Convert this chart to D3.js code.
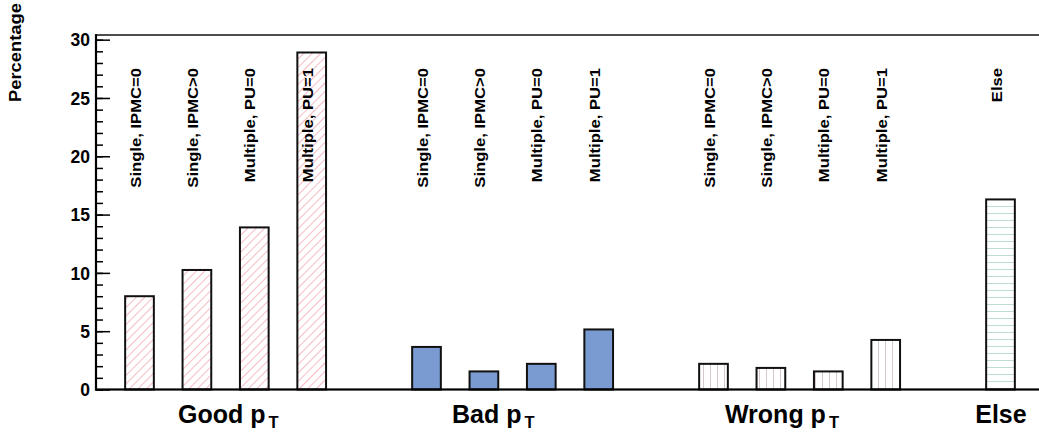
<!DOCTYPE html>
<html>
<head>
<meta charset="utf-8">
<script src="https://cdn.jsdelivr.net/npm/d3@7"></script>
<style>
  html, body { margin: 0; padding: 0; background: #fff; }
  svg text { font-family: "Liberation Sans", Arial, Helvetica, sans-serif; font-weight: bold; fill: #000; }
</style>
</head>
<body>
<svg id="chart" width="1039" height="438"></svg>
<script>
// Fractions of tracks per reconstruction category (percent)
const groupNames = ["Good", "Bad", "Wrong", "Else"];
const subLabels = ["Single, IPMC=0", "Single, IPMC>0", "Multiple, PU=0", "Multiple, PU=1"];
const goodValues = [8.0, 10.25, 13.9, 28.9];
const badValues = [3.65, 1.55, 2.2, 5.15];
const wrongValues = [2.2, 1.85, 1.55, 4.25];
const elseLabels = ["Else"];
const elseValues = [16.3];
const yTicks = [0, 5, 10, 15, 20, 25, 30];
const yTitle = "Percentage";

// Each group takes four slots followed by one empty slot
const groupSeries = [
  { name: groupNames[0], labels: subLabels, values: goodValues, fill: "url(#hatchDiag)", sub: true },
  { name: groupNames[1], labels: subLabels, values: badValues, fill: "#7a9bd2", sub: true },
  { name: groupNames[2], labels: subLabels, values: wrongValues, fill: "url(#hatchVert)", sub: true },
  { name: groupNames[3], labels: elseLabels, values: elseValues, fill: "url(#hatchHoriz)", sub: false }
];
const bars = [];
groupSeries.forEach((g, gi) => {
  g.values.forEach((v, i) => bars.push({ slot: gi * 5 + i, value: v, label: g.labels[i], fill: g.fill, group: gi }));
});

const svg = d3.select("#chart");
const axisLeftX = 96;
const frameTop = 35;
const base = 389.5;

const x = d3.scaleBand()
  .domain(d3.range(16))
  .range([110.8, 1029.2])
  .paddingInner(0.5)
  .paddingOuter(0.25);

const y = d3.scaleLinear().domain([0, 30.4]).range([base, frameTop]);

// hatch patterns
const defs = svg.append("defs");
function hatch(id, w, h, rot, line, color, width) {
  const p = defs.append("pattern")
    .attr("id", id).attr("patternUnits", "userSpaceOnUse")
    .attr("width", w).attr("height", h);
  if (rot) p.attr("patternTransform", `rotate(${rot})`);
  p.append("rect").attr("width", w).attr("height", h).attr("fill", "#fff");
  p.append("line").attr("x1", line[0]).attr("y1", line[1]).attr("x2", line[2]).attr("y2", line[3])
    .attr("stroke", color).attr("stroke-width", width);
}
hatch("hatchDiag", 6, 6, 45, [0.5, 0, 0.5, 6], "#f4b3bd", 0.9);
hatch("hatchVert", 7, 7, 0, [3.5, 0, 3.5, 7], "#d9c8c8", 1);
hatch("hatchHoriz", 7, 7, 0, [0, 3.5, 7, 3.5], "#bfdcd2", 1);

// bars
svg.append("g").selectAll("rect").data(bars).join("rect")
  .attr("x", d => x(d.slot))
  .attr("y", d => y(d.value))
  .attr("width", x.bandwidth())
  .attr("height", d => y(0) - y(d.value))
  .attr("fill", d => d.fill)
  .attr("stroke", "#111")
  .attr("stroke-width", 2);

// frame: top edge and bottom axis
svg.append("rect").attr("x", axisLeftX - 1).attr("y", frameTop - 0.8).attr("width", 1039 - axisLeftX + 1).attr("height", 1.6)
  .attr("fill", "#222");
svg.append("rect").attr("x", axisLeftX - 1).attr("y", base - 1.1).attr("width", 1039 - axisLeftX + 1).attr("height", 2.2)
  .attr("fill", "#000");

// y axis: minor and major ticks pointing inward
const yMinor = d3.axisLeft(y).tickValues(d3.range(0, 31, 1)).tickSizeInner(-7).tickSizeOuter(0).tickFormat("");
const yMajor = d3.axisLeft(y).tickValues(yTicks).tickSizeInner(-14).tickSizeOuter(0).tickPadding(6);
const gMinor = svg.append("g").attr("transform", `translate(${axisLeftX},0)`).call(yMinor);
gMinor.select(".domain").remove();
gMinor.selectAll(".tick line").attr("stroke", "#000").attr("stroke-width", 1.5);
const gMajor = svg.append("g").attr("transform", `translate(${axisLeftX},0)`).call(yMajor);
gMajor.select(".domain").remove();
gMajor.selectAll(".tick line").attr("stroke", "#000").attr("stroke-width", 1.5);
gMajor.selectAll(".tick text")
  .attr("font-family", null)
  .attr("font-size", null)
  .style("font-size", "17.5px")
  .attr("dy", "0.36em");

// y title
svg.append("text")
  .attr("transform", "translate(21,3) rotate(-90) scale(1.08,1)")
  .attr("text-anchor", "end")
  .style("font-size", "17px")
  .text(yTitle);

// rotated sub-category labels above the bars
svg.append("g").selectAll("text").data(bars).join("text")
  .attr("transform", d => `translate(${x(d.slot) + x.bandwidth() / 2 + 1},68) rotate(-90) scale(1.11,1)`)
  .attr("text-anchor", "end")
  .style("font-size", "15px")
  .text(d => d.label);

// group titles under the axis, placed in slot units
const groupTitleSlot = [1.171, 5.944, 10.70, 15.06];
const slotUnit = x.step();
groupSeries.forEach((g, gi) => {
  const left = x.range()[0] + groupTitleSlot[gi] * slotUnit;
  const t = svg.append("text")
    .attr("transform", `translate(${left},423)`)
    .attr("text-anchor", "start")
    .style("font-size", "25px");
  if (g.sub) {
    t.append("tspan").text(g.name + " p");
    t.append("tspan").attr("dx", 3).attr("dy", 5).style("font-size", "16.5px").text("T");
  } else {
    t.text(g.name);
  }
});

// left axis line, drawn on top of the ticks
svg.append("path")
  .attr("d", d3.line()([[axisLeftX, frameTop - 0.8], [axisLeftX, base + 1.1]]))
  .attr("fill", "none")
  .attr("stroke", "#000")
  .attr("stroke-width", 2.2);
</script>
</body>
</html>
